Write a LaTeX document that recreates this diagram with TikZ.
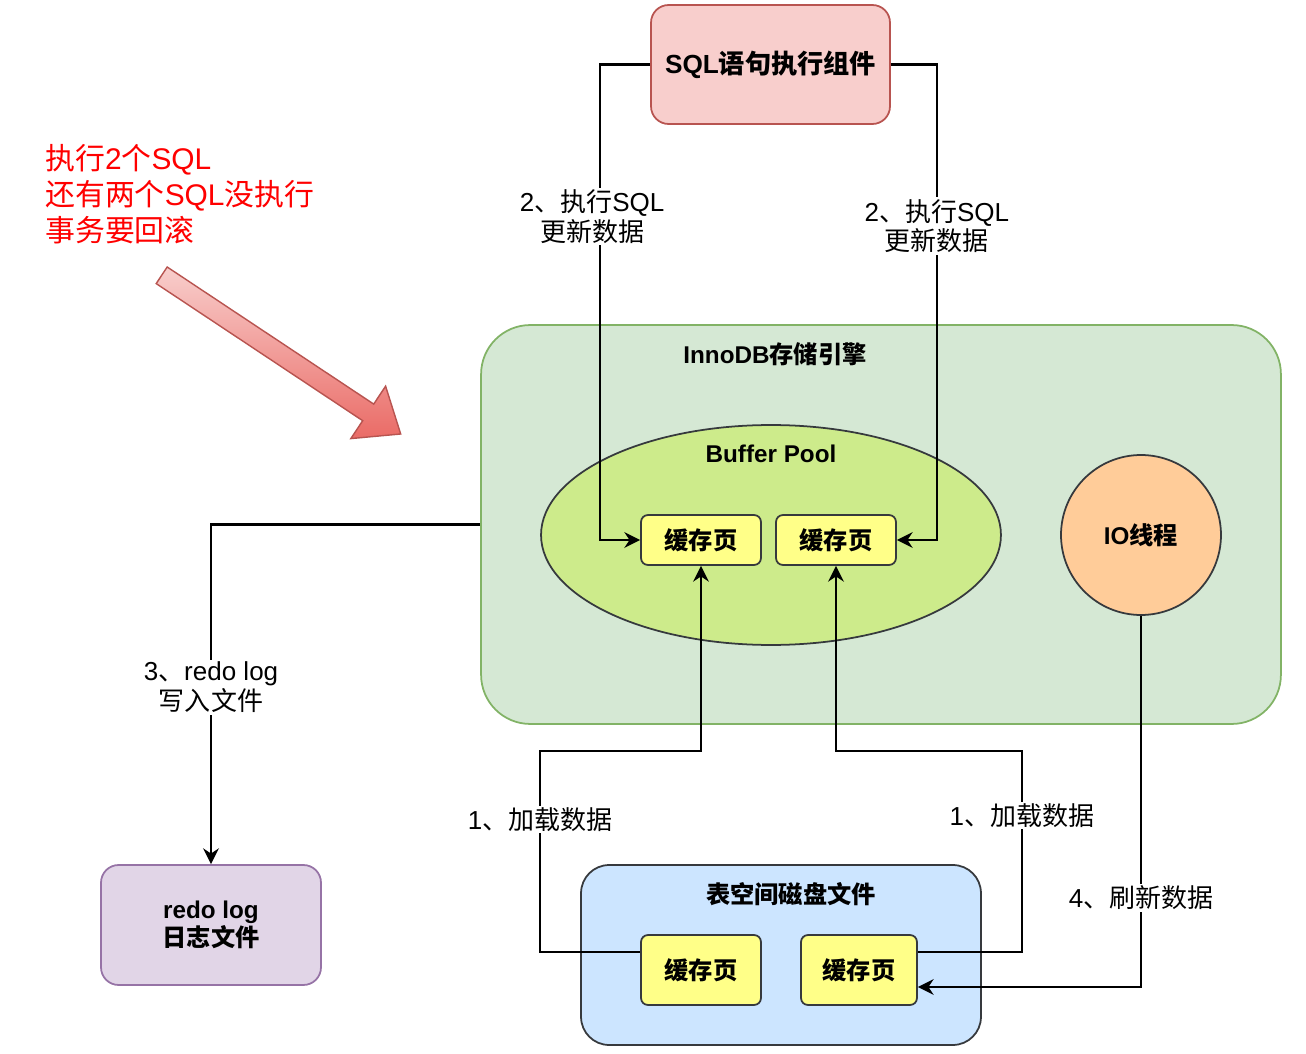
\documentclass[tikz,border=0pt]{standalone}
\usepackage{fontspec}
\setmainfont{Liberation Sans}
\newfontfamily\cjk{Noto Sans CJK SC}
\newcommand{\zh}[1]{{\cjk #1}}
\usetikzlibrary{shapes.geometric, arrows.meta, positioning, calc}

\definecolor{sqlfill}{HTML}{F8CECC}
\definecolor{sqldraw}{HTML}{B85450}
\definecolor{innofill}{HTML}{D5E8D4}
\definecolor{innodraw}{HTML}{82B366}
\definecolor{poolfill}{HTML}{CDEB8B}
\definecolor{darkline}{HTML}{36393D}
\definecolor{pagefill}{HTML}{FFFF88}
\definecolor{iofill}{HTML}{FFCC99}
\definecolor{diskfill}{HTML}{CCE5FF}
\definecolor{redofill}{HTML}{E1D5E7}
\definecolor{redodraw}{HTML}{9673A6}
\definecolor{warnred}{HTML}{FF0000}
\definecolor{bigarrow}{HTML}{EA6B66}

\begin{document}
\begin{tikzpicture}[
  x=0.02cm, y=-0.02cm,
  % Container / box style; corner radius supplied per node as box=<radius>
  box/.style={
    rectangle, rounded corners=#1,
    line width=1pt, align=center, inner sep=2pt
  },
  page/.style={
    box=4pt, fill=pagefill, draw=darkline,
    minimum width=2.4cm, minimum height=1cm,
    font=\bfseries\cjk\fontsize{13.8}{16}\selectfont
  },
  title/.style={font=\bfseries\fontsize{13.8}{16}\selectfont, inner sep=1pt},
  lbl/.style={fill=white, align=center, inner sep=1pt,
    font=\fontsize{14.8}{17}\selectfont},
  arr/.style={-{Stealth[length=9pt,width=9pt,inset=3pt]}, line width=1.25pt},
]
\useasboundingbox (0,0) rectangle (1306,1054);

%% ── Top: SQL component ────────────────────────────────────────────────────
\node[box=10pt, fill=sqlfill, draw=sqldraw, minimum width=4.78cm,
  minimum height=2.38cm, font=\bfseries\fontsize{14.9}{17}\selectfont]
  (sql) at (770.5,64.5) {SQL\zh{语句执行组件}};

%% ── Note and big arrow ────────────────────────────────────────────────────
\node[anchor=west, align=left, text=warnred, inner sep=0pt,
  font=\fontsize{17}{20.5}\selectfont] (note) at (45,194)
  {\zh{执行}2\zh{个}SQL\\\zh{还有两个}SQL\zh{没执行}\\\zh{事务要回滚}};

\shade[top color=sqlfill, bottom color=bigarrow, draw=sqldraw, line width=0.8pt]
  (167.2,267.0) -- (373.7,404.1) -- (385.6,386.2) -- (400.7,434.0)
  -- (350.8,438.6) -- (362.7,420.7) -- (156.2,283.6) -- cycle;

%% ── InnoDB engine ─────────────────────────────────────────────────────────
\node[box=28pt, fill=innofill, draw=innodraw, minimum width=16cm,
  minimum height=7.98cm] (innodb) at (881,524.5) {};
\node[title] (innolbl) at (775,354) {InnoDB\zh{存储引擎}};

\node[ellipse, fill=poolfill, draw=darkline, line width=1pt,
  minimum width=9.2cm, minimum height=4.4cm, inner sep=0pt]
  (pool) at (771,535) {};
\node[title] (poollbl) at (771,454) {Buffer Pool};

\node[page] (page1) at (701,540) {缓存页};
\node[page] (page2) at (836,540) {缓存页};

\node[circle, fill=iofill, draw=darkline, line width=1pt,
  minimum size=3.2cm, inner sep=0pt, font=\bfseries\fontsize{13.8}{16}\selectfont]
  (io) at (1141,535) {IO\zh{线程}};

%% ── Bottom: disk file and redo log ────────────────────────────────────────
\node[box=16pt, fill=diskfill, draw=darkline, minimum width=8cm,
  minimum height=3.6cm] (disk) at (781,955) {};
\node[title] (disklbl) at (791,894) {\zh{表空间磁盘文件}};

\node[page, minimum height=1.4cm] (dpage1) at (701,970) {缓存页};
\node[page, minimum width=2.32cm, minimum height=1.4cm] (dpage2) at (859,970) {缓存页};

\node[box=10pt, fill=redofill, draw=redodraw, minimum width=4.4cm,
  minimum height=2.4cm, font=\bfseries\fontsize{13.8}{16}\selectfont]
  (redo) at (211,925) {redo log\\\zh{日志文件}};

%% ── Connectors ────────────────────────────────────────────────────────────
\draw[arr] (sql.west) -- ++(-50,0)
  |- node[lbl, pos=0.16, xshift=-0.16cm] {2\zh{、执行}SQL\\\zh{更新数据}} (page1.west);
\draw[arr] (sql.east) -- ++(46,0)
  |- node[lbl, pos=0.17] {2\zh{、执行}SQL\\\zh{更新数据}} (page2.east);
\draw[arr] (innodb.west)
  -| node[lbl, pos=0.74] {3\zh{、}redo log\\\zh{写入文件}} (redo.north);
\draw[arr] ($(dpage1.west)+(0,-18)$) -- ++(-100,0)
  -- node[lbl, pos=0.66] {1\zh{、加载数据}} ++(0,-201) -| (page1.south);
\draw[arr] ($(dpage2.east)+(0,-18)$) -- ++(104,0)
  -- node[lbl, pos=0.68] {1\zh{、加载数据}} ++(0,-201) -| (page2.south);
\draw[arr] (io.south)
  |- node[lbl, pos=0.38] {4\zh{、刷新数据}} ($(dpage2.east)+(0,17)$);

\end{tikzpicture}
\end{document}
